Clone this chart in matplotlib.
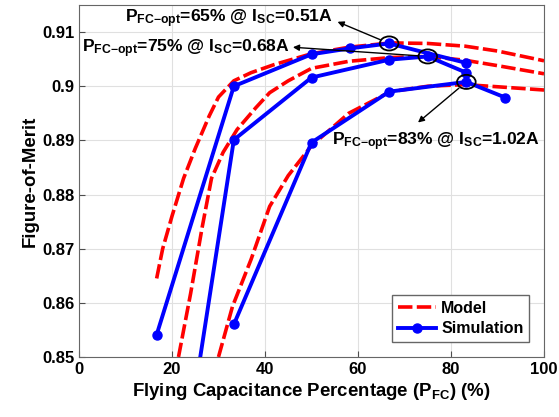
import matplotlib
matplotlib.use("Agg")
import matplotlib.pyplot as plt
from matplotlib.patches import Ellipse

plt.rcParams["font.family"] = "Liberation Sans"
plt.rcParams["font.weight"] = "bold"
plt.rcParams["mathtext.fontset"] = "custom"
plt.rcParams["mathtext.rm"] = "Liberation Sans:bold"
plt.rcParams["mathtext.bf"] = "Liberation Sans:bold"
plt.rcParams["mathtext.it"] = "Liberation Sans:bold"

# Model curves
model_a_x = [16.7, 18, 20, 22.5, 25, 28, 30, 33.3, 37, 42, 50, 58, 67, 75, 83, 90, 100]
model_a_y = [0.8645, 0.870, 0.876, 0.883, 0.8885, 0.8945, 0.898, 0.9010, 0.9025,
             0.904, 0.906, 0.9072, 0.908, 0.9079, 0.9074, 0.9065, 0.9047]
model_b_x = [21.4, 24, 26.5, 28.5, 31, 34, 38, 41, 45, 50, 58, 67, 75, 83, 90, 100]
model_b_y = [0.85, 0.8617, 0.874, 0.883, 0.8878, 0.892, 0.896, 0.8988, 0.901,
             0.9033, 0.9046, 0.9053, 0.9055, 0.9048, 0.9038, 0.9023]
model_c_x = [30, 33, 37, 41, 45, 50, 58, 67, 75, 83, 90, 100]
model_c_y = [0.85, 0.8593, 0.868, 0.8778, 0.8835, 0.889, 0.895, 0.899, 0.900,
             0.9003, 0.8999, 0.8993]

# Simulation points
sim_a_x = [16.7, 33.3, 50, 58.3, 66.7, 83.3]
sim_a_y = [0.8541, 0.9000, 0.9059, 0.9070, 0.9079, 0.9043]
sim_b_x = [25, 33.3, 50, 66.7, 75, 83.3]
sim_b_y = [0.844, 0.8901, 0.9016, 0.9049, 0.9055, 0.9025]
sim_c_x = [33.3, 50, 66.7, 83.3, 91.7]
sim_c_y = [0.8560, 0.8896, 0.8990, 0.9008, 0.8979]

# optimum markers and their labels
opt_x = [66.7, 75.0, 83.3]
opt_y = [0.9079, 0.9055, 0.9008]
opt_labels = [r"P$_{\mathbf{FC{-}opt}}$=65% @ I$_{\mathbf{SC}}$=0.51A",
              r"P$_{\mathbf{FC{-}opt}}$=75% @ I$_{\mathbf{SC}}$=0.68A",
              r"P$_{\mathbf{FC{-}opt}}$=83% @ I$_{\mathbf{SC}}$=1.02A"]
label_pos = [(54.6, 0.9124, "right"), (45.4, 0.9070, "right"), (54.4, 0.8898, "left")]
arrow_end = [(55.6, 0.9119), (46.0, 0.9072), (72.9, 0.8933)]

fig = plt.figure(figsize=(5.59, 4.17), dpi=100)
ax = fig.add_axes([0.1413, 0.144, 0.8319, 0.844])

dash = (0, (4.0, 1.2))
for mx, my in [(model_a_x, model_a_y), (model_b_x, model_b_y), (model_c_x, model_c_y)]:
    ax.plot(mx, my, color="red", lw=2.6, linestyle=dash, zorder=3)
for sx, sy in [(sim_a_x, sim_a_y), (sim_b_x, sim_b_y), (sim_c_x, sim_c_y)]:
    ax.plot(sx, sy, color="blue", lw=2.8, marker="o", ms=6.5, zorder=4)

for x, y, label, (tx, ty, ha), end in zip(opt_x, opt_y, opt_labels, label_pos, arrow_end):
    ax.add_patch(Ellipse((x, y), 4.0, 0.0026, fill=False, ec="black", lw=1.3, zorder=6))
    ax.text(tx, ty, label, fontsize=12.6, fontweight="bold", ha=ha, va="center", zorder=7)
    ax.annotate("", xy=end, xytext=(x, y), zorder=7,
                arrowprops=dict(arrowstyle="-|>", color="black", lw=1.0,
                                mutation_scale=9, shrinkA=7, shrinkB=0))

ax.set_xlim(0, 100)
ax.set_ylim(0.85, 0.915)
ax.set_xticks([0, 20, 40, 60, 80, 100])
ax.set_yticks([0.85, 0.86, 0.87, 0.88, 0.89, 0.9, 0.91])
ax.set_yticklabels(["0.85", "0.86", "0.87", "0.88", "0.89", "0.9", "0.91"])
ax.tick_params(direction="in", labelsize=12, length=4, color="0.3")
ax.grid(True, color="0.88", lw=0.8)
for s in ax.spines.values():
    s.set_color("0.4")
ax.set_xlabel(r"Flying Capacitance Percentage (P$_{\mathbf{FC}}$) (%)", fontsize=13.4,
              fontweight="bold", labelpad=3)
ax.set_ylabel("Figure-of-Merit", fontsize=13.4, fontweight="bold", labelpad=2)

ax.plot([], [], color="red", lw=2.6, linestyle=dash, label="Model")
ax.plot([], [], color="blue", lw=2.8, marker="o", ms=6.5, label="Simulation")
h, l = ax.get_legend_handles_labels()
ax.legend(h[-2:], l[-2:], loc="lower right", fontsize=11.5, handlelength=2.4,
          fancybox=False, edgecolor="0.4", framealpha=1, borderpad=0.35,
          labelspacing=0.35, handletextpad=0.3, borderaxespad=0,
          bbox_to_anchor=(0.968, 0.043))

fig.savefig("out.png", dpi=100)
